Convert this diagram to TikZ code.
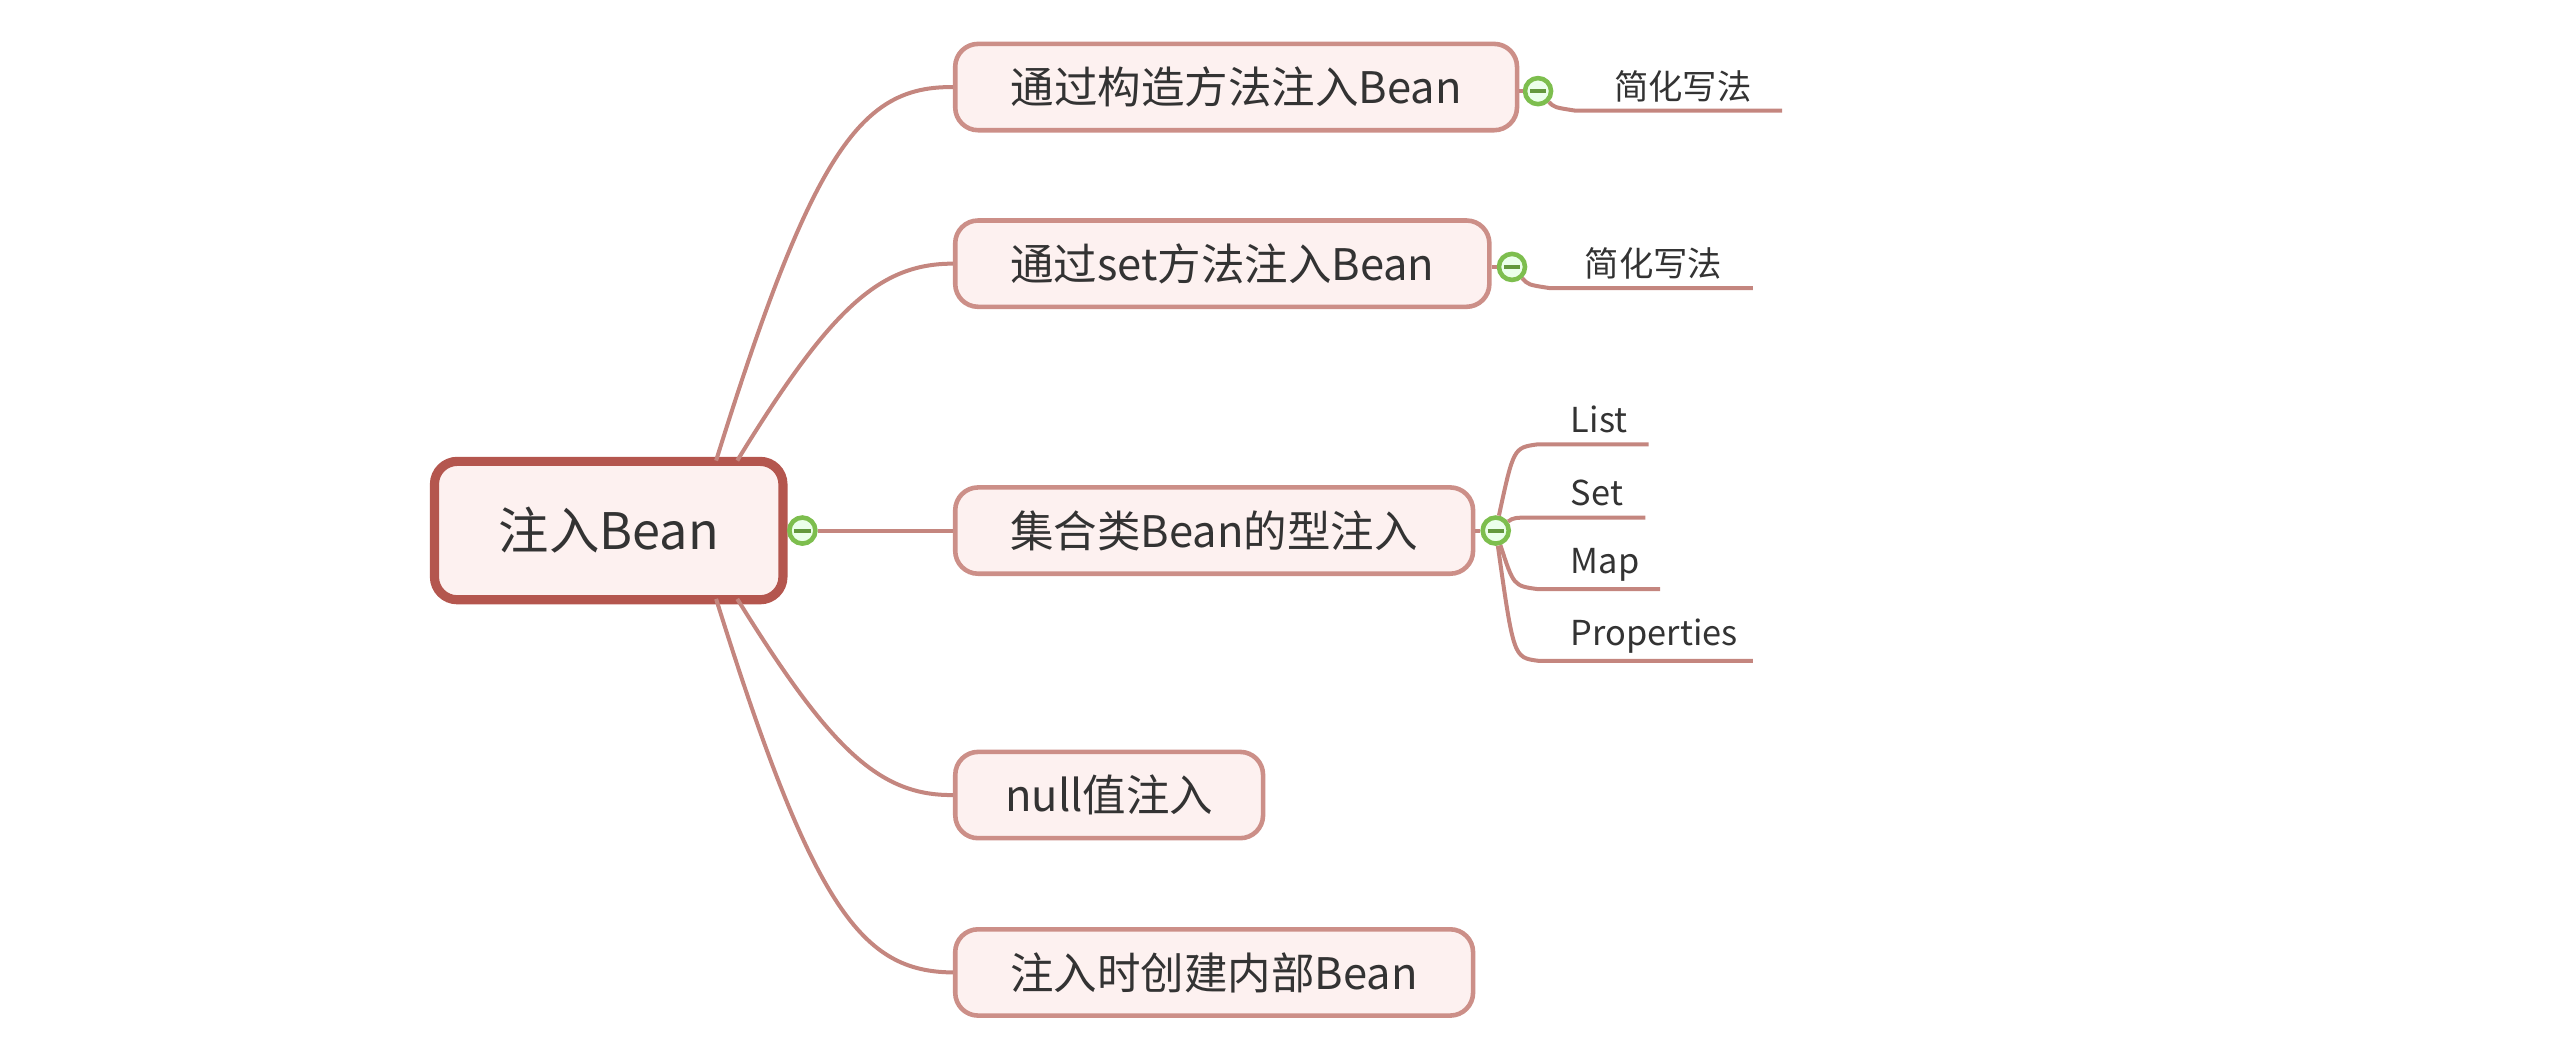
\documentclass[tikz,border=0pt]{standalone}
\usepackage{fontspec}
\setmainfont{Noto Sans CJK SC}
\usetikzlibrary{positioning}
\definecolor{boxfill}{HTML}{FDF1F0}
\definecolor{boxline}{HTML}{CC8F88}
\definecolor{rootline}{HTML}{B4564E}
\definecolor{linkcol}{HTML}{C4867F}
\definecolor{foldcol}{HTML}{7DBE4E}
\begin{document}
\begin{tikzpicture}
    [
    x=0.01cm, y=-0.01cm,
    every topic/.style={draw=boxline, fill=boxfill, rounded corners=4pt, line width=0.8pt, minimum height=0.53cm, inner xsep=0pt, font=\fontsize{7.6pt}{9pt}\selectfont, text=black!80},
    root topic/.style={draw=rootline, fill=boxfill, rounded corners=4pt, line width=1.6pt, minimum width=2.14cm, minimum height=0.85cm, font=\fontsize{8.8pt}{10pt}\selectfont, text=black!80},
    leaf/.style={font=\fontsize{6pt}{7pt}\selectfont, text=black!80, inner sep=1pt},
    link/.style={draw=linkcol, line width=0.7pt},
    fold/.style={circle, draw=foldcol, fill=green!8, line width=0.8pt, minimum size=0.16cm, inner sep=0pt,
        path picture={\draw[foldcol!80!black, line width=0.7pt] ([xshift=-0.05cm]path picture bounding box.center) -- ([xshift=0.05cm]path picture bounding box.center);}},
    ]
    \useasboundingbox (0,0) rectangle (1568,649);

    % root
    \node[root topic] (root) at (374,326) {注入Bean};
    \node[fold] (fold_root) at (493,326) {};

    % main topics
    \node[every topic, minimum width=3.45cm] (t_ctor) at (759.5,53.5) {通过构造方法注入Bean};
    \node[every topic, minimum width=3.28cm] (t_set) at (751,162) {通过set方法注入Bean};
    \node[every topic, minimum width=3.18cm] (t_coll) at (746,326) {集合类Bean的型注入};
    \node[every topic, minimum width=1.89cm] (t_null) at (681.5,488.5) {null值注入};
    \node[every topic, minimum width=3.18cm] (t_inner) at (746,597.5) {注入时创建内部Bean};

    \draw[link] (440,283) .. controls (500,90) and (530,53) .. (t_ctor.west);
    \draw[link] (453,283) .. controls (510,190) and (540,162) .. (t_set.west);
    \draw[link] (fold_root) -- (t_coll.west);
    \draw[link] (453,368) .. controls (510,460) and (540,489) .. (t_null.west);
    \draw[link] (440,368) .. controls (500,560) and (530,597) .. (t_inner.west);

    % folds on topics
    \node[fold] (fold_ctor) at (945,56) {};
    \node[fold] (fold_set) at (929,164) {};
    \node[fold] (fold_coll) at (919,326) {};
    \draw[link] (t_ctor.east |- fold_ctor) -- (fold_ctor);
    \draw[link] (t_set.east |- fold_set) -- (fold_set);
    \draw[link] (t_coll.east |- fold_coll) -- (fold_coll);

    % leaves
    \coordinate (ctor_a) at (968,68);  \coordinate (ctor_b) at (1095,68);
    \coordinate (set_a) at (952,177);  \coordinate (set_b) at (1077,177);
    \coordinate (list_a) at (945,273); \coordinate (list_b) at (1013,273);
    \coordinate (sset_a) at (945,318); \coordinate (sset_b) at (1011,318);
    \coordinate (map_a) at (945,362);  \coordinate (map_b) at (1020,362);
    \coordinate (prop_a) at (945,406); \coordinate (prop_b) at (1077,406);

    \draw[link] (fold_ctor) .. controls (955,66) .. (ctor_a) -- (ctor_b);
    \draw[link] (fold_set) .. controls (939,175) .. (set_a) -- (set_b);
    \draw[link] (fold_coll) .. controls (930,275) .. (list_a) -- (list_b);
    \draw[link] (fold_coll) .. controls (930,318) .. (sset_a) -- (sset_b);
    \draw[link] (fold_coll) .. controls (930,360) .. (map_a) -- (map_b);
    \draw[link] (fold_coll) .. controls (930,404) .. (prop_a) -- (prop_b);

    \node[leaf] (l_ctor) at (1034,53) {简化写法};
    \node[leaf] (l_set) at (1016,162) {简化写法};
    \node[leaf, anchor=west] (l_list) at (961,258) {List};
    \node[leaf, anchor=west] (l_sset) at (961,303) {Set};
    \node[leaf, anchor=west] (l_map) at (961,347) {Map};
    \node[leaf, anchor=west] (l_prop) at (961,391) {Properties};
\end{tikzpicture}
\end{document}
